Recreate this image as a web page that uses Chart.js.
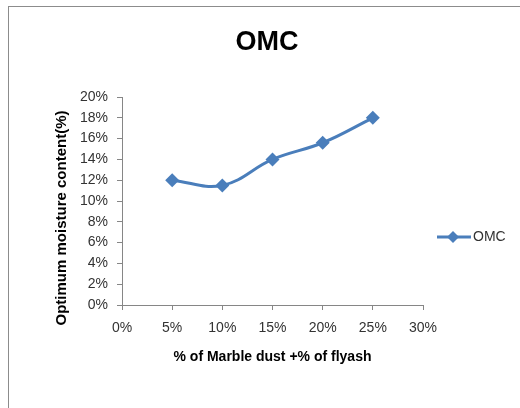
<!DOCTYPE html>
<html><head><meta charset="utf-8">
<script src="https://cdn.jsdelivr.net/npm/chart.js@4/dist/chart.umd.min.js"></script>
<style>html,body{margin:0;padding:0;background:#fff;}#wrap{width:520px;height:408px;position:relative;}</style>
</head><body><div id="wrap"><canvas id="c" width="520" height="408"></canvas></div>
<script>
const categories = [5, 10, 15, 20, 25];
const omcValues = [12.0, 11.5, 14.0, 15.6, 18.0];
const xTickValues = [0, 5, 10, 15, 20, 25, 30];
const yTickValues = [0, 2, 4, 6, 8, 10, 12, 14, 16, 18, 20];
const seriesName = 'OMC';
const chartTitle = 'OMC';
const xTitle = '% of Marble dust +% of flyash';
const yTitle = 'Optimum moisture content(%)';

const FONT = "'Liberation Sans', Arial, sans-serif";
const LINE = '#4A7EBB';
const AXIS = '#868686';

const decor = {
  id: 'decor',
  beforeDraw(chart) {
    const ctx = chart.ctx;
    ctx.save();
    ctx.fillStyle = '#fff';
    ctx.fillRect(0, 0, chart.width, chart.height);
    ctx.strokeStyle = '#8c8c8c';
    ctx.lineWidth = 1;
    ctx.strokeRect(8.5, 6.5, 700, 700);
    ctx.restore();
  },
  afterDraw(chart) {
    const ctx = chart.ctx;
    ctx.save();
    ctx.fillStyle = '#000';
    ctx.font = 'bold 27px ' + FONT;
    ctx.textAlign = 'center';
    ctx.textBaseline = 'middle';
    ctx.fillText(chartTitle, 267, 43);
    ctx.save();
    ctx.translate(62, 218);
    ctx.rotate(-Math.PI / 2);
    ctx.font = 'bold 15px ' + FONT;
    ctx.fillText(yTitle, 0, 0);
    ctx.restore();
    ctx.strokeStyle = LINE;
    ctx.lineWidth = 3;
    ctx.beginPath();
    ctx.moveTo(437, 237);
    ctx.lineTo(471, 237);
    ctx.stroke();
    ctx.fillStyle = LINE;
    Chart.helpers.drawPoint(ctx, {pointStyle: 'rectRot', radius: 6, borderWidth: 0}, 453, 237);
    ctx.fillStyle = '#333';
    ctx.font = '14px ' + FONT;
    ctx.textAlign = 'left';
    ctx.fillText(seriesName, 473, 237);
    ctx.restore();
  }
};

new Chart(document.getElementById('c'), {
  type: 'line',
  data: {
    datasets: [{
      label: seriesName,
      data: categories.map((x, i) => ({x: x, y: omcValues[i]})),
      borderColor: LINE,
      backgroundColor: LINE,
      borderWidth: 3,
      pointStyle: 'rectRot',
      pointRadius: 7,
      pointBorderWidth: 0,
      tension: 0.4
    }]
  },
  options: {
    responsive: false,
    animation: false,
    devicePixelRatio: 1,
    layout: {padding: {left: 0, top: 97, right: 97, bottom: 0}},
    plugins: {legend: {display: false}, title: {display: false}, tooltip: {enabled: false}},
    scales: {
      x: {
        type: 'linear', min: 0, max: 30,
        afterBuildTicks: s => { s.ticks = xTickValues.map(v => ({value: v})); },
        afterFit: s => { s.height = 103; },
        ticks: {callback: v => v + '%', font: {family: FONT, size: 14}, color: '#333', padding: 10, maxRotation: 0},
        grid: {drawOnChartArea: false, drawTicks: true, tickLength: 5, color: AXIS},
        border: {color: AXIS},
        title: {display: true, text: xTitle, font: {family: FONT, size: 14, weight: 'bold'}, color: '#000', padding: {top: 4, bottom: 42.6}}
      },
      y: {
        type: 'linear', min: 0, max: 20,
        afterBuildTicks: s => { s.ticks = yTickValues.map(v => ({value: v})); },
        afterFit: s => { s.width = 122; },
        ticks: {callback: v => v + '%', font: {family: FONT, size: 14}, color: '#333', padding: 9},
        grid: {drawOnChartArea: false, drawTicks: true, tickLength: 5, color: AXIS},
        border: {color: AXIS}
      }
    }
  },
  plugins: [decor]
});
</script></body></html>
